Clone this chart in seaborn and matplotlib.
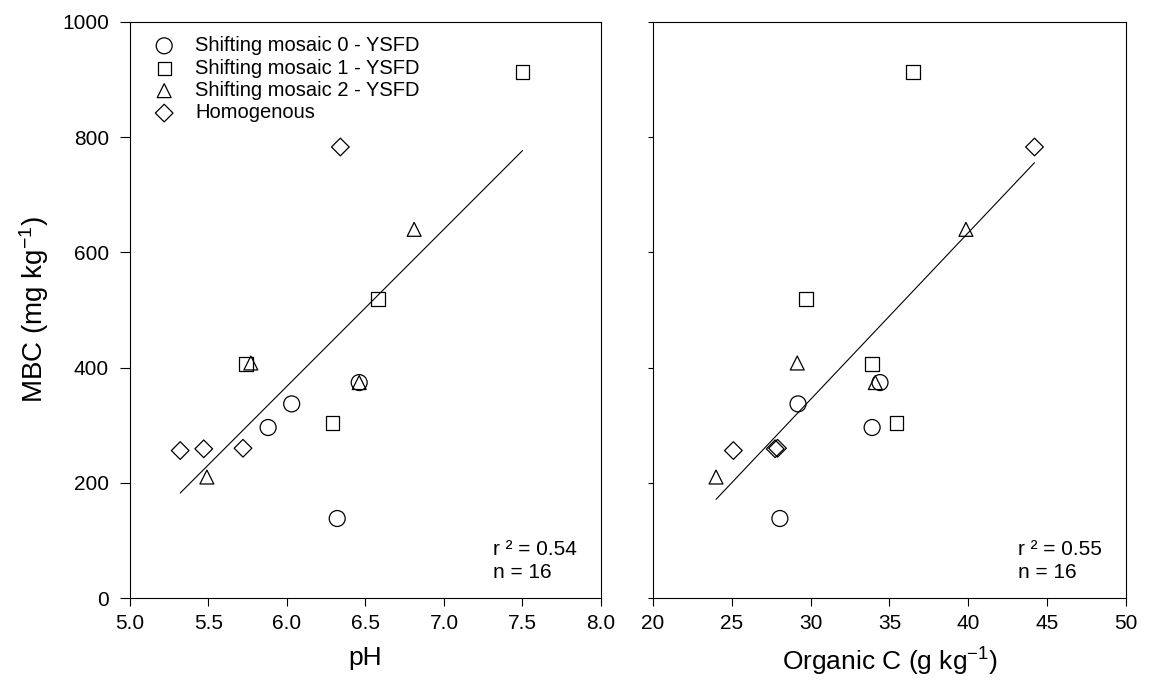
import matplotlib
matplotlib.use("Agg")
import matplotlib.pyplot as plt
import seaborn as sns
import pandas as pd
import numpy as np

# データ
groups = ["Shifting mosaic 0 - YSFD"] * 4 + ["Shifting mosaic 1 - YSFD"] * 4 \
    + ["Shifting mosaic 2 - YSFD"] * 4 + ["Homogenous"] * 4
ph = [6.46, 6.03, 5.88, 6.32,
      7.50, 6.58, 5.74, 6.29,
      6.81, 5.77, 6.46, 5.49,
      6.34, 5.32, 5.47, 5.72]
org_c = [34.4, 29.2, 33.9, 28.05,
         36.5, 29.7, 33.9, 35.45,
         39.85, 29.15, 34.1, 24.0,
         44.2, 25.1, 27.75, 27.9]
mbc = [374, 337, 296, 138,
       913, 519, 406, 304,
       640, 408, 374, 210,
       783, 256, 259, 260]

group_order = ["Shifting mosaic 0 - YSFD", "Shifting mosaic 1 - YSFD",
               "Shifting mosaic 2 - YSFD", "Homogenous"]
markers = {"Shifting mosaic 0 - YSFD": "o", "Shifting mosaic 1 - YSFD": "s",
           "Shifting mosaic 2 - YSFD": "^", "Homogenous": "D"}
sizes = {"o": 132, "s": 92, "^": 100, "D": 81}

stats_txt = ["r \u00b2 = 0.54\nn = 16", "r \u00b2 = 0.55\nn = 16"]

df = pd.DataFrame({"group": groups, "pH": ph, "orgC": org_c, "MBC": mbc})

sns.set_style("ticks")
plt.rcParams["font.family"] = ["Liberation Sans", "DejaVu Sans"]
plt.rcParams["mathtext.fontset"] = "custom"
plt.rcParams["mathtext.rm"] = "Liberation Sans"
plt.rcParams["mathtext.default"] = "regular"
for k in ["text.color", "axes.labelcolor", "xtick.color", "ytick.color", "axes.edgecolor"]:
    plt.rcParams[k] = "black"

fig = plt.figure(figsize=(11.5, 6.96), dpi=100)
ax1 = fig.add_axes([0.1130, 0.1408, 0.4096, 0.8276])
ax2 = fig.add_axes([0.5678, 0.1408, 0.4113, 0.8276])


def draw_panel(ax, xcol, show_legend):
    for g in group_order:
        sub = df[df["group"] == g]
        m = markers[g]
        sns.scatterplot(x=xcol, y="MBC", data=sub, marker=m, s=sizes[m],
                        color="black", facecolor="none", edgecolor="black",
                        linewidth=0.9, label=g if show_legend else None,
                        legend=False, ax=ax, zorder=3)
    sns.regplot(x=xcol, y="MBC", data=df, scatter=False, ci=None, truncate=True,
                color="black", line_kws={"lw": 0.8}, ax=ax)
    for s in ax.spines.values():
        s.set_linewidth(0.8)
        s.set_color("black")


draw_panel(ax1, "pH", True)
draw_panel(ax2, "orgC", False)

# 左パネル
ax1.set_xlim(5.0, 8.0)
ax1.set_ylim(0, 1000)
ax1.set_xticks(np.arange(5.0, 8.01, 0.5))
ax1.set_xticklabels([f"{v:.1f}" for v in np.arange(5.0, 8.01, 0.5)])
ax1.set_yticks(np.arange(0, 1001, 200))
ax1.tick_params(axis="y", length=7.2, width=0.8, pad=8, labelsize=15)
ax1.tick_params(axis="x", length=5.8, width=0.8, pad=6, labelsize=15)
ax1.set_xlabel("pH", fontsize=19, labelpad=9)
ax1.set_ylabel("MBC (mg kg$^{-1}$)", fontsize=20, labelpad=8)

# 右パネル
ax2.set_xlim(20, 50)
ax2.set_ylim(0, 1000)
ax2.set_xticks(np.arange(20, 51, 5))
ax2.set_yticks(np.arange(0, 1001, 200))
ax2.set_yticklabels([])
ax2.tick_params(axis="y", length=3.6, width=0.8)
ax2.tick_params(axis="x", length=5.8, width=0.8, pad=6, labelsize=15)
ax2.set_xlabel("Organic C (g kg$^{-1}$)", fontsize=19, labelpad=9)
ax2.set_ylabel("")

for ax, txt in zip([ax1, ax2], stats_txt):
    ax.text(0.771, 0.035, txt, transform=ax.transAxes, fontsize=15,
            ha="left", va="baseline", linespacing=1.25)

ax1.legend(loc="upper left", frameon=False, fontsize=14.5,
           borderaxespad=0.35, borderpad=0.35, handlelength=2.0,
           handletextpad=0.55, labelspacing=0.17)

fig.savefig("out.png", dpi=100)
